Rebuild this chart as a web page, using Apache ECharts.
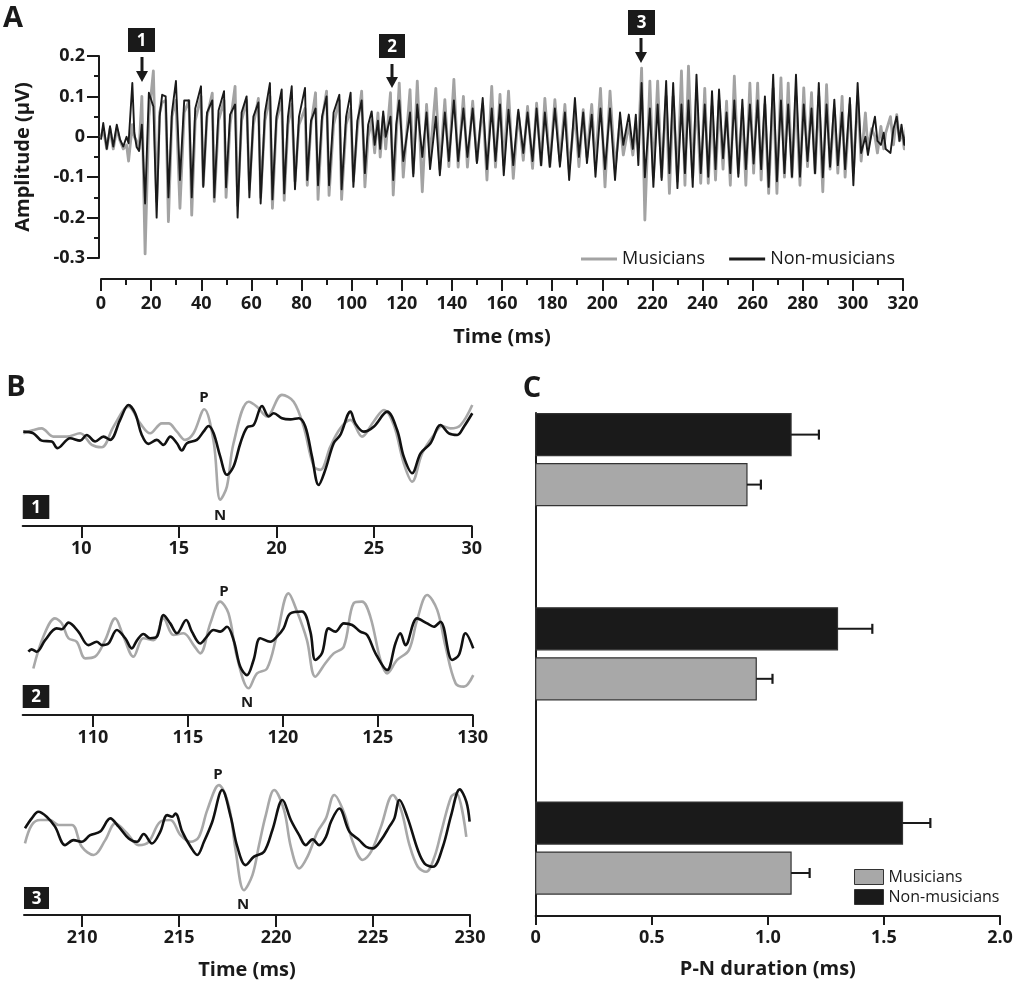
<!DOCTYPE html>
<html><head><meta charset="utf-8">
<script src="https://cdn.jsdelivr.net/npm/echarts@6/dist/echarts.min.js"></script>
<style>html,body{margin:0;padding:0;background:#fff}#c{width:1017px;height:986px}</style>
</head><body><div id="c"></div>
<script>
// ---------- Panel A data (time in ms, amplitude in µV) ----------
const timeA = [0.0,0.9,2.3,3.6,4.9,6.3,7.6,8.9,10.2,11.0,12.5,13.3,14.2,15.2,16.3,17.6,19.1,20.9,22.2,23.4,24.4,25.8,26.9,28.3,29.9,31.5,33.2,35.1,36.2,37.6,39.9,40.8,42.3,44.4,45.2,46.9,49.1,49.9,51.5,53.5,54.5,56.1,58.1,59.2,60.8,62.8,63.7,65.4,67.4,68.4,70.0,72.1,73.1,74.6,76.1,77.4,79.0,81.4,82.3,83.8,85.6,86.6,88.2,90.0,91.0,92.8,95.1,96.0,97.8,99.6,100.7,102.3,104.0,105.3,106.6,108.0,109.2,110.5,111.4,112.6,113.6,115.5,116.6,117.8,119.0,120.6,123.3,124.6,126.2,128.2,129.9,131.3,133.6,135.2,137.2,138.8,140.8,142.5,144.6,146.2,148.3,150.0,152.3,154.0,155.9,157.4,159.2,160.7,162.6,164.5,166.5,168.5,170.2,172.2,173.8,175.6,177.1,179.1,181.1,183.1,185.1,186.8,189.1,190.7,192.4,193.9,195.8,197.3,199.3,201.1,203.1,205.1,207.1,208.4,210.6,212.2,213.4,214.4,215.7,217.0,219.0,220.4,222.1,223.7,225.5,226.8,228.3,230.0,231.6,233.0,234.4,236.1,237.6,239.3,240.9,242.3,243.8,245.2,246.6,248.2,249.6,251.1,252.7,254.3,255.9,257.3,258.9,260.4,262.0,263.4,264.9,266.4,268.2,269.7,271.3,272.7,274.2,275.7,277.3,278.9,280.4,281.9,283.5,284.9,286.4,288.0,289.5,290.9,292.6,294.0,295.7,296.9,298.8,300.2,301.9,303.3,305.0,306.0,307.5,308.8,309.8,311.2,312.3,313.1,315.0,316.2,317.5,318.6,319.4,320.5,321.5,322.5,323.3];
const musiciansA = [0.00,0.02,-0.03,0.02,-0.03,0.02,-0.01,-0.03,-0.02,-0.06,0.03,0.00,-0.01,-0.03,0.10,-0.29,0.05,0.163,-0.16,0.06,0.085,0.09,-0.21,0.05,0.09,-0.177,0.06,0.09,-0.194,0.04,0.10,-0.12,0.05,0.108,-0.16,0.04,0.09,-0.15,0.03,0.125,-0.17,0.04,0.09,-0.13,0.03,0.095,-0.15,0.04,0.10,-0.177,0.04,0.09,-0.157,0.03,0.08,-0.11,0.03,0.07,-0.12,0.03,0.109,-0.155,0.04,0.113,-0.145,0.03,0.09,-0.155,0.03,0.07,-0.11,0.02,0.113,-0.124,0.00,0.04,-0.04,0.059,-0.05,0.05,-0.03,0.109,-0.144,0.00,0.133,-0.10,0.117,-0.09,0.138,-0.136,0.08,-0.05,0.12,-0.08,0.092,-0.074,0.142,-0.075,0.10,-0.075,0.088,-0.06,0.08,-0.107,0.125,-0.075,0.105,-0.07,0.113,-0.103,0.06,-0.058,0.075,-0.078,0.083,-0.07,0.095,-0.074,0.092,-0.06,0.08,-0.08,0.06,-0.074,0.067,-0.05,0.08,-0.07,0.12,-0.124,0.113,-0.08,0.04,-0.045,0.03,-0.045,0.02,-0.02,0.17,-0.206,0.138,-0.10,0.138,-0.10,0.10,-0.14,0.10,-0.11,0.163,-0.12,0.175,-0.10,0.10,-0.115,0.12,-0.115,0.075,-0.107,0.09,-0.08,0.088,-0.12,0.15,-0.09,0.07,-0.12,0.133,-0.09,0.133,-0.107,0.08,-0.14,0.12,-0.14,0.146,-0.10,0.133,-0.10,0.10,-0.12,0.121,-0.074,0.109,-0.09,0.10,-0.136,0.129,-0.08,0.07,-0.09,0.10,-0.10,0.08,-0.09,0.10,-0.06,0.059,-0.03,0.02,0.00,-0.04,0.026,-0.03,0.01,0.05,-0.02,0.055,-0.01,0.02,-0.03,0.035,-0.01,-0.03];
const nonMusiciansA = [-0.007,0.034,-0.03,0.026,-0.024,0.03,-0.007,-0.024,0.00,-0.016,0.133,0.01,-0.025,-0.035,0.03,-0.165,0.109,0.075,-0.20,0.05,0.104,0.10,-0.15,0.06,0.138,-0.107,0.09,0.09,-0.15,0.07,0.125,-0.124,0.06,0.09,-0.15,0.065,0.113,-0.125,0.055,0.08,-0.20,0.06,0.10,-0.15,0.05,0.085,-0.165,0.06,0.133,-0.155,0.05,0.117,-0.14,0.05,0.125,-0.13,0.05,0.121,-0.107,0.04,0.07,-0.12,0.05,0.10,-0.12,0.06,0.104,-0.13,0.05,0.109,-0.124,0.04,0.09,-0.09,0.03,0.063,-0.02,0.04,-0.03,0.063,0.00,0.05,-0.107,0.03,0.09,-0.06,0.06,-0.098,0.08,-0.05,0.06,-0.08,0.05,-0.095,0.06,-0.06,0.09,-0.06,0.07,-0.05,0.07,-0.065,0.096,-0.08,0.07,-0.06,0.08,-0.095,0.067,-0.07,0.067,-0.04,0.06,-0.06,0.07,-0.07,0.06,-0.074,0.07,-0.074,0.06,-0.107,0.096,-0.05,0.06,-0.065,0.055,-0.099,0.07,-0.08,0.07,-0.107,0.06,-0.02,0.055,-0.03,0.055,-0.07,0.133,-0.10,0.07,-0.124,0.08,-0.107,0.138,-0.09,0.133,-0.127,0.08,-0.09,0.09,-0.124,0.154,-0.09,0.08,-0.099,0.113,-0.08,0.117,-0.053,0.06,-0.09,0.09,-0.099,0.092,-0.08,0.08,-0.066,0.09,-0.08,0.10,-0.124,0.154,-0.11,0.09,-0.09,0.08,-0.099,0.154,-0.099,0.08,-0.06,0.07,-0.09,0.133,-0.10,0.08,-0.074,0.092,-0.07,0.06,-0.08,0.096,-0.12,0.133,-0.04,0.00,-0.045,0.01,0.05,-0.01,-0.02,0.01,-0.03,-0.04,0.02,0.05,-0.01,0.03,-0.02,0.02,-0.02,0.01];

// ---------- Panel B data ([time ms, amplitude µV]) ----------
const b1Musicians = [[7.03,0.007],[7.55,0.021],[7.97,0.028],[8.57,-0.007],[9.26,-0.007],[9.94,0.007],[10.54,-0.042],[11.05,-0.052],[11.65,0.035],[12.42,0.12],[13.02,0.049],[13.53,0.007],[14.13,0.049],[14.47,0.049],[14.9,0.014],[15.32,-0.021],[15.75,0.007],[16.3,0.109],[16.78,-0.028],[17.12,-0.275],[17.46,-0.219],[17.8,-0.035],[18.57,0.141],[19.0,0.12],[19.51,0.078],[20.28,0.17],[20.88,0.141],[21.39,0.035],[21.91,-0.134],[22.25,-0.148],[22.76,-0.049],[23.27,0.028],[23.79,0.064],[24.38,-0.007],[24.98,0.057],[25.5,0.106],[26.01,0.042],[26.52,-0.12],[26.95,-0.198],[27.46,-0.078],[28.06,0],[28.49,0.038],[28.91,0.028],[29.43,0.042],[30.03,0.127]];
const b1NonMusicians = [[7.03,0.014],[7.55,0.007],[7.97,-0.024],[8.49,-0.028],[8.78,-0.056],[9.43,-0.014],[9.94,-0.024],[10.28,0],[10.71,-0.028],[11.14,-0.007],[11.48,-0.021],[11.99,0.064],[12.42,0.127],[12.76,0.092],[13.1,0],[13.44,-0.038],[13.87,-0.021],[14.21,-0.042],[14.56,-0.007],[14.9,-0.035],[15.15,-0.066],[15.41,-0.035],[15.92,-0.021],[16.26,0.014],[16.52,0.038],[16.78,0.007],[17.12,-0.092],[17.46,-0.169],[17.8,-0.134],[18.15,-0.035],[18.49,0.032],[18.83,0.042],[19.26,0.123],[19.6,0.078],[19.86,0.092],[20.28,0.071],[20.71,0.066],[21.14,0.071],[21.48,0.035],[21.82,-0.092],[22.16,-0.212],[22.5,-0.148],[22.93,-0.035],[23.27,0],[23.79,0.099],[24.04,0.049],[24.47,0.014],[24.98,0.035],[25.67,0.099],[26.18,0.021],[26.52,-0.092],[26.95,-0.162],[27.38,-0.078],[27.89,-0.035],[28.4,0.042],[28.83,0.007],[29.26,0],[29.6,0.035],[30.03,0.092]];
const b2Musicians = [[106.86,-0.112],[107.39,0.023],[108.0,0.1],[108.36,0.079],[108.71,0.016],[109.15,0.001],[109.59,-0.069],[110.11,-0.062],[110.64,0.008],[111.17,0.1],[111.61,0.023],[112.13,-0.062],[112.66,0.016],[113.19,0.008],[113.72,0.1],[114.24,0.03],[114.77,0.037],[115.3,-0.013],[115.65,-0.048],[116.18,0.079],[116.7,0.171],[117.14,0.121],[117.58,-0.062],[118.2,-0.196],[118.64,-0.133],[119.17,-0.112],[119.69,0.03],[120.3,0.206],[120.75,0.129],[121.27,0.008],[121.71,-0.147],[122.24,-0.09],[122.68,-0.048],[123.21,-0.02],[123.73,0.164],[124.17,0.171],[124.61,0.107],[125.14,-0.076],[125.49,-0.133],[126.02,-0.076],[126.64,-0.034],[127.07,0.093],[127.6,0.199],[128.13,0.136],[128.57,-0.02],[129.1,-0.175],[129.54,-0.189],[130.03,-0.14]];
const b2NonMusicians = [[106.6,-0.041],[106.77,-0.031],[107.04,-0.041],[107.48,0.008],[108.09,0.058],[108.36,0.054],[108.71,0.082],[109.23,0.044],[109.76,-0.013],[110.2,0.001],[110.47,-0.013],[110.82,-0.006],[111.26,0.051],[111.7,0.016],[112.05,-0.027],[112.31,0.006],[112.66,0.034],[113.01,0.016],[113.37,0.023],[113.72,0.114],[114.07,0.079],[114.42,0.037],[114.91,0.093],[115.21,0.044],[115.65,-0.006],[116.0,0.023],[116.35,0.051],[116.7,0.044],[117.06,0.065],[117.41,0.008],[117.76,-0.105],[118.11,-0.14],[118.46,-0.076],[118.81,0.016],[119.34,0.001],[119.69,0.023],[120.04,0.058],[120.39,0.121],[121.01,0.129],[121.45,0.044],[121.71,-0.076],[122.06,-0.048],[122.41,0.058],[122.77,0.044],[123.21,0.079],[123.65,0.072],[124.08,0.044],[124.44,0.03],[124.88,-0.048],[125.49,-0.119],[125.93,-0.006],[126.19,0.037],[126.46,-0.013],[127.07,0.1],[127.6,0.079],[127.95,0.065],[128.3,0.086],[128.92,-0.076],[129.27,-0.055],[129.62,0.037],[130.03,-0.027]];
const b3Musicians = [[207.05,-0.027],[207.4,0.051],[207.83,0.072],[208.34,0.072],[208.78,0.051],[209.47,0.051],[209.98,-0.041],[210.59,-0.076],[211.19,-0.013],[211.71,0.058],[212.31,0.016],[212.91,-0.034],[213.43,-0.02],[214.03,0.065],[214.55,0.072],[215.07,0.008],[215.59,-0.02],[216.02,0.001],[216.45,0.114],[217.05,0.22],[217.57,0.129],[217.91,-0.055],[218.34,-0.225],[218.78,-0.161],[219.12,-0.034],[219.47,0.093],[219.9,0.199],[220.41,0.114],[220.76,-0.041],[221.19,-0.133],[221.62,-0.083],[222.14,0.023],[222.57,0.079],[223.0,0.178],[223.52,0.1],[223.95,-0.02],[224.47,-0.097],[224.9,-0.062],[225.41,0.044],[226.02,0.178],[226.45,0.114],[226.88,-0.034],[227.31,-0.126],[227.74,-0.147],[228.17,-0.083],[228.52,0.023],[229.03,0.171],[229.29,0.185],[229.81,0.001]];
const b3NonMusicians = [[207.05,0.037],[207.4,0.079],[207.74,0.107],[208.17,0.086],[208.6,0.044],[209.12,-0.034],[209.55,-0.013],[209.98,-0.02],[210.41,0.008],[210.93,0.023],[211.45,0.079],[211.88,0.044],[212.4,-0.006],[212.83,-0.02],[213.17,0.013],[213.6,-0.027],[214.03,0.023],[214.38,0.093],[214.64,0.086],[214.81,0.1],[215.16,0.023],[215.59,-0.041],[215.93,-0.076],[216.28,-0.02],[216.71,0.065],[217.22,0.199],[217.66,0.086],[218.0,-0.041],[218.43,-0.119],[218.86,-0.083],[219.38,-0.062],[219.81,0.03],[220.33,0.157],[220.76,0.072],[221.19,0.008],[221.53,-0.034],[221.88,-0.01],[222.22,-0.034],[222.57,0.001],[222.83,0.065],[223.26,0.121],[223.78,0.023],[224.29,-0.013],[224.64,-0.041],[224.98,-0.048],[225.41,-0.013],[225.84,0.044],[226.1,0.079],[226.36,0.157],[226.79,0.079],[227.31,-0.055],[227.66,-0.112],[228.09,-0.126],[228.6,-0.041],[229.03,0.093],[229.47,0.202],[229.81,0.15],[229.98,0.065]];
const b1Ticks = [10,15,20,25,30];
const b2Ticks = [110,115,120,125,130];
const b3Ticks = [210,215,220,225,230];

// ---------- Panel C data (P-N duration, ms) ----------
const cGroups = ['1','2','3'];
const cMusicians = [0.91, 0.95, 1.10];
const cMusiciansErr = [0.06, 0.07, 0.08];
const cNonMusicians = [1.10, 1.30, 1.58];
const cNonMusiciansErr = [0.12, 0.15, 0.12];

// ---------- styling ----------
const FONT = 'Open Sans';
const INK = '#1a1a1a';
const GRAY = '#a3a3a3';
const lblBold = {fontFamily: FONT, fontWeight: 'bold', fontSize: 18, color: INK};
const axisLineStyle = {color: INK, width: 2};

const chart = echarts.init(document.getElementById('c'), null, {renderer: 'canvas'});

function bAxis(idx, min, max, ticks, withName) {
  const ax = {
    type: 'value', gridIndex: idx, min: min, max: max,
    axisLine: {show: true, lineStyle: axisLineStyle, onZero: false},
    axisTick: {show: true, length: 12, lineStyle: {color: INK, width: 2}, customValues: ticks},
    axisLabel: Object.assign({}, lblBold, {margin: 14, customValues: ticks}),
    splitLine: {show: false}
  };
  if (withName) {
    ax.name = 'Time (ms)';
    ax.nameLocation = 'middle';
    ax.nameGap = 45;
    ax.nameTextStyle = {fontFamily: FONT, fontWeight: 'bold', fontSize: 20, color: INK};
  }
  return ax;
}
function bY(idx, min) {
  return {type: 'value', gridIndex: idx, min: min, max: 0.25, show: false};
}
function lineSeries(name, xi, data, color, width, smooth, clip) {
  return {
    type: 'line', name: name, xAxisIndex: xi, yAxisIndex: xi, data: data,
    showSymbol: false, symbol: 'none', smooth: smooth, clip: clip,
    lineStyle: {color: color, width: width, join: 'round'},
    itemStyle: {color: color}, animation: false, silent: true, z: 2
  };
}

function barRender(which) {
  return function (params, api) {
    const v = api.value(0), g = api.value(1), e = api.value(2);
    const p0 = api.coord([0, g]);
    const p1 = api.coord([v, g]);
    const pe = api.coord([v + e, g]);
    const top = which === 'non' ? p0[1] - 46 : p0[1] + 4;
    const h = 42;
    const cy = top + h / 2;
    const fill = which === 'non' ? '#1a1a1a' : '#a8a8a8';
    return {
      type: 'group',
      children: [
        {type: 'rect', shape: {x: p0[0], y: top, width: p1[0] - p0[0], height: h},
         style: {fill: fill, stroke: '#333', lineWidth: 1.2}},
        {type: 'line', shape: {x1: p1[0], y1: cy, x2: pe[0], y2: cy},
         style: {stroke: INK, lineWidth: 2}},
        {type: 'line', shape: {x1: pe[0], y1: cy - 5, x2: pe[0], y2: cy + 5},
         style: {stroke: INK, lineWidth: 2.2}}
      ]
    };
  };
}

function box(x, y, w, h, t) {
  return {type: 'group', children: [
    {type: 'rect', shape: {x: x, y: y, width: w, height: h}, style: {fill: '#1a1a1a'}},
    {type: 'text', x: x + w / 2, y: y + h / 2 + 1,
     style: {text: t, fill: '#fff', font: 'bold 17px "Open Sans"', textAlign: 'center', textVerticalAlign: 'middle'}}
  ]};
}
function arrow(x, y0, y1) {
  return {type: 'group', children: [
    {type: 'rect', shape: {x: x - 1.5, y: y0, width: 3, height: y1 - y0 - 8}, style: {fill: '#1a1a1a'}},
    {type: 'polygon', shape: {points: [[x - 6, y1 - 11], [x + 6, y1 - 11], [x, y1]]}, style: {fill: '#1a1a1a'}}
  ]};
}
function txt(x, y, t, size, weight) {
  return {type: 'text', x: x, y: y, style: {text: t, fill: INK, font: (weight || 'bold') + ' ' + size + 'px "Open Sans"', textAlign: 'center', textVerticalAlign: 'middle'}};
}

const option = {
  backgroundColor: '#fff',
  animation: false,
  textStyle: {fontFamily: FONT},
  grid: [
    {left: 101, right: 114, top: 56, bottom: 728},           // A
    {left: 22.7, right: 545.3, top: 376, bottom: 460},      // B1
    {left: 22.7, right: 544.3, top: 583, bottom: 271},      // B2
    {left: 24, right: 547, top: 778, bottom: 71},           // B3
    {left: 535.7, right: 17, top: 413, bottom: 70}          // C
  ],
  xAxis: [
    {type: 'value', gridIndex: 0, min: 0, max: 320, interval: 20, offset: 21,
     axisLine: {show: true, lineStyle: axisLineStyle, onZero: false},
     axisTick: {show: true, length: 12, lineStyle: {color: INK, width: 2}},
     minorTick: {show: true, splitNumber: 2, length: 6, lineStyle: {color: INK, width: 2}},
     axisLabel: Object.assign({}, lblBold, {margin: 16}),
     splitLine: {show: false},
     name: 'Time (ms)', nameLocation: 'middle', nameGap: 48,
     nameTextStyle: {fontFamily: FONT, fontWeight: 'bold', fontSize: 20, color: INK}},
    bAxis(1, 7, 30, b1Ticks, false),
    bAxis(2, 106.3, 130, b2Ticks, false),
    bAxis(3, 207, 230, b3Ticks, true),
    {type: 'value', gridIndex: 4, min: 0, max: 2, interval: 0.5,
     axisLine: {show: true, lineStyle: axisLineStyle, onZero: false},
     axisTick: {show: true, length: 9, lineStyle: {color: INK, width: 2}},
     axisLabel: Object.assign({}, lblBold, {margin: 13, formatter: v => v === 0 ? '0' : v.toFixed(1)}),
     splitLine: {show: false},
     name: 'P-N duration (ms)', nameLocation: 'middle', nameGap: 43,
     nameTextStyle: {fontFamily: FONT, fontWeight: 'bold', fontSize: 20, color: INK}}
  ],
  yAxis: [
    {type: 'value', gridIndex: 0, min: -0.3, max: 0.2, interval: 0.1, offset: 2,
     axisLine: {show: true, lineStyle: axisLineStyle, onZero: false},
     axisTick: {show: true, length: 12, lineStyle: {color: INK, width: 2}},
     minorTick: {show: true, splitNumber: 2, length: 5, lineStyle: {color: INK, width: 2}},
     axisLabel: Object.assign({}, lblBold, {margin: 14, formatter: v => (Math.abs(v) < 1e-9 ? '0' : (Math.round(v * 10) / 10).toString())}),
     splitLine: {show: false},
     name: 'Amplitude (µV)', nameLocation: 'middle', nameGap: 66, nameRotate: 90,
     nameTextStyle: {fontFamily: FONT, fontWeight: 'bold', fontSize: 20, color: INK}},
    bY(1, -0.386),
    bY(2, -0.309),
    bY(3, -0.33),
    {type: 'value', gridIndex: 4, min: -0.24, max: 2.35, inverse: true,
     axisLine: {show: true, lineStyle: axisLineStyle, onZero: false},
     axisTick: {show: false}, axisLabel: {show: false}, splitLine: {show: false}}
  ],
  legend: [
    {left: 581, top: 250, padding: 0, itemWidth: 36, itemHeight: 3, itemGap: 24,
     textStyle: {fontFamily: FONT, fontSize: 18, color: INK},
     data: [{name: 'Musicians', icon: 'rect', itemStyle: {color: GRAY}},
            {name: 'Non-musicians', icon: 'rect', itemStyle: {color: INK}}],
     selectedMode: false},
    {left: 854, top: 869, padding: 0, orient: 'vertical', itemWidth: 29, itemHeight: 15, itemGap: 4,
     textStyle: {fontFamily: FONT, fontSize: 16, color: INK},
     data: [{name: 'Musicians', icon: 'rect', itemStyle: {color: '#a8a8a8', borderColor: '#333', borderWidth: 1}},
            {name: 'Non-musicians', icon: 'rect', itemStyle: {color: '#1a1a1a', borderColor: '#333', borderWidth: 1}}],
     selectedMode: false}
  ],
  series: [
    lineSeries('Musicians', 0, timeA.map((t, i) => [t, musiciansA[i]]), GRAY, 2.8, false, false),
    lineSeries('Non-musicians', 0, timeA.map((t, i) => [t, nonMusiciansA[i]]), INK, 1.9, false, false),
    lineSeries('Musicians', 1, b1Musicians, '#a8a8a8', 2.6, 0.35, true),
    lineSeries('Non-musicians', 1, b1NonMusicians, '#111', 2.6, 0.35, true),
    lineSeries('Musicians', 2, b2Musicians, '#a8a8a8', 2.6, 0.35, true),
    lineSeries('Non-musicians', 2, b2NonMusicians, '#111', 2.6, 0.35, true),
    lineSeries('Musicians', 3, b3Musicians, '#a8a8a8', 2.6, 0.35, true),
    lineSeries('Non-musicians', 3, b3NonMusicians, '#111', 2.6, 0.35, true),
    {type: 'custom', name: 'Musicians', xAxisIndex: 4, yAxisIndex: 4,
     itemStyle: {color: '#a8a8a8'}, renderItem: barRender('mus'), clip: false,
     data: cGroups.map((g, i) => [cMusicians[i], i, cMusiciansErr[i]])},
    {type: 'custom', name: 'Non-musicians', xAxisIndex: 4, yAxisIndex: 4,
     itemStyle: {color: '#1a1a1a'}, renderItem: barRender('non'), clip: false,
     data: cGroups.map((g, i) => [cNonMusicians[i], i, cNonMusiciansErr[i]])}
  ],
  graphic: [
    txt(13, 19, 'A', 29), txt(16, 388, 'B', 29), txt(532, 389, 'C', 29),
    box(128, 28, 27, 24, '1'), arrow(142, 57, 82),
    box(379, 34, 26, 24, '2'), arrow(392, 64, 88),
    box(628, 10, 27, 25, '3'), arrow(641, 38, 63),
    box(22.7, 495, 26.6, 24, '1'), box(22.7, 685, 26.6, 23, '2'), box(24, 887, 25, 22, '3'),
    txt(204, 398, 'P', 15), txt(220, 516, 'N', 15),
    txt(224, 592, 'P', 15), txt(247, 703, 'N', 15),
    txt(218, 775, 'P', 15), txt(243, 905, 'N', 15)
  ]
};
chart.setOption(option);
</script></body></html>
